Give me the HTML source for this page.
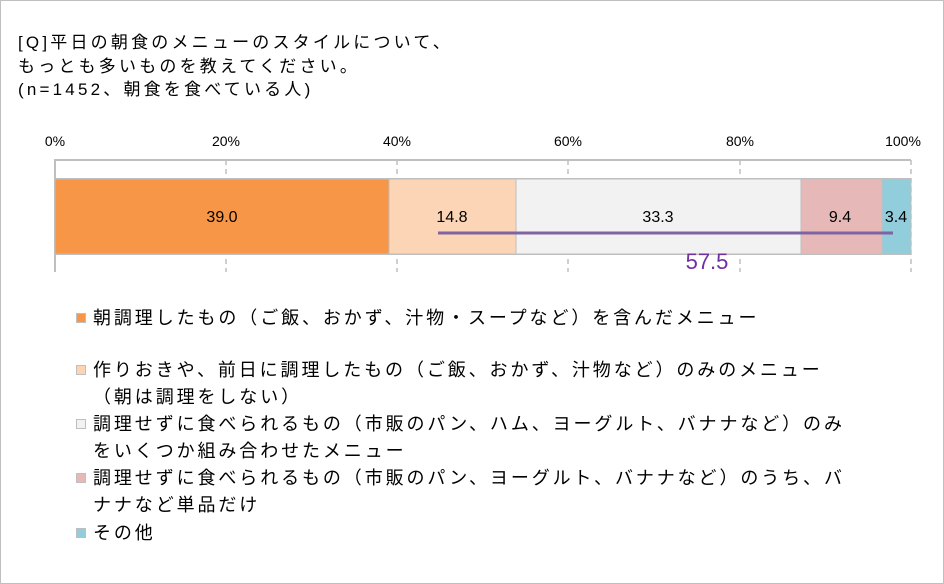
<!DOCTYPE html>
<html><head><meta charset="utf-8"><style>
body{margin:0;width:944px;height:584px;background:#fff;position:relative;overflow:hidden;font-family:"Liberation Sans","Noto Sans CJK JP",sans-serif;}
.frame{position:absolute;left:0;top:0;width:942px;height:582px;border:1px solid #bfbfbf;}
.t{position:absolute;left:18px;font-size:17px;letter-spacing:3.2px;color:#000;white-space:nowrap;line-height:20px}
.l{position:absolute;left:93px;font-size:18px;letter-spacing:2.9px;color:#000;white-space:nowrap;line-height:22px}
.sq{position:absolute;left:76px;width:8px;height:8px;border:1px solid #bfbfbf}
</style></head><body>
<div class="frame"></div>
<div class="t" style="top:33px">[Q]平日の朝食のメニューのスタイルについて、</div>
<div class="t" style="top:57px">もっとも多いものを教えてください。</div>
<div class="t" style="top:80px">(n=1452、朝食を食べている人)</div>
<svg style="position:absolute;left:0;top:0" width="944" height="300">
<g font-family="Liberation Sans, sans-serif" font-size="14" text-anchor="middle" fill="#000">
<text x="55" y="146">0%</text><text x="226" y="146">20%</text><text x="397" y="146">40%</text><text x="568" y="146">60%</text><text x="740" y="146">80%</text><text x="903" y="146">100%</text>
</g>
<g stroke="#bfbfbf" stroke-width="1.5" stroke-dasharray="5,4">
<line x1="226" y1="160" x2="226" y2="272"/><line x1="397" y1="160" x2="397" y2="272"/><line x1="568" y1="160" x2="568" y2="272"/><line x1="740" y1="160" x2="740" y2="272"/><line x1="911" y1="160" x2="911" y2="272"/>
</g>
<g stroke="#bfbfbf" stroke-width="2" fill="none">
<line x1="55" y1="160" x2="911" y2="160"/><line x1="55" y1="159" x2="55" y2="272"/><line x1="55" y1="254" x2="911" y2="254"/><line x1="55" y1="179" x2="911" y2="179"/>
</g>
<g stroke="#bfbfbf" stroke-width="1">
<rect x="55" y="179" width="334" height="75" fill="#f79646"/>
<rect x="389" y="179" width="127" height="75" fill="#fbd5b5"/>
<rect x="516" y="179" width="285" height="75" fill="#f2f2f2"/>
<rect x="801" y="179" width="81" height="75" fill="#e6b9b8"/>
<rect x="882" y="179" width="29" height="75" fill="#92cddc"/>
</g>
<g font-family="Liberation Sans, sans-serif" font-size="16" text-anchor="middle" fill="#000">
<text x="222" y="222">39.0</text><text x="452" y="222">14.8</text><text x="658" y="222">33.3</text><text x="840" y="222">9.4</text><text x="896" y="222">3.4</text>
</g>
<line x1="438" y1="233" x2="893" y2="233" stroke="#8064a2" stroke-width="3"/>
<text x="707" y="269" font-family="Liberation Sans, sans-serif" font-size="22" fill="#7030a0" text-anchor="middle">57.5</text>
</svg>
<div class="sq" style="top:313px;background:#f79646"></div>
<div class="l" style="top:307px">朝調理したもの（ご飯、おかず、汁物・スープなど）を含んだメニュー</div>
<div class="sq" style="top:365px;background:#fbd5b5"></div>
<div class="l" style="top:359px">作りおきや、前日に調理したもの（ご飯、おかず、汁物など）のみのメニュー</div>
<div class="l" style="top:386px">（朝は調理をしない）</div>
<div class="sq" style="top:419px;background:#f2f2f2"></div>
<div class="l" style="top:413px">調理せずに食べられるもの（市販のパン、ハム、ヨーグルト、バナナなど）のみ</div>
<div class="l" style="top:440px">をいくつか組み合わせたメニュー</div>
<div class="sq" style="top:473px;background:#e6b9b8"></div>
<div class="l" style="top:467px">調理せずに食べられるもの（市販のパン、ヨーグルト、バナナなど）のうち、バ</div>
<div class="l" style="top:494px">ナナなど単品だけ</div>
<div class="sq" style="top:528px;background:#92cddc"></div>
<div class="l" style="top:522px">その他</div>
</body></html>
